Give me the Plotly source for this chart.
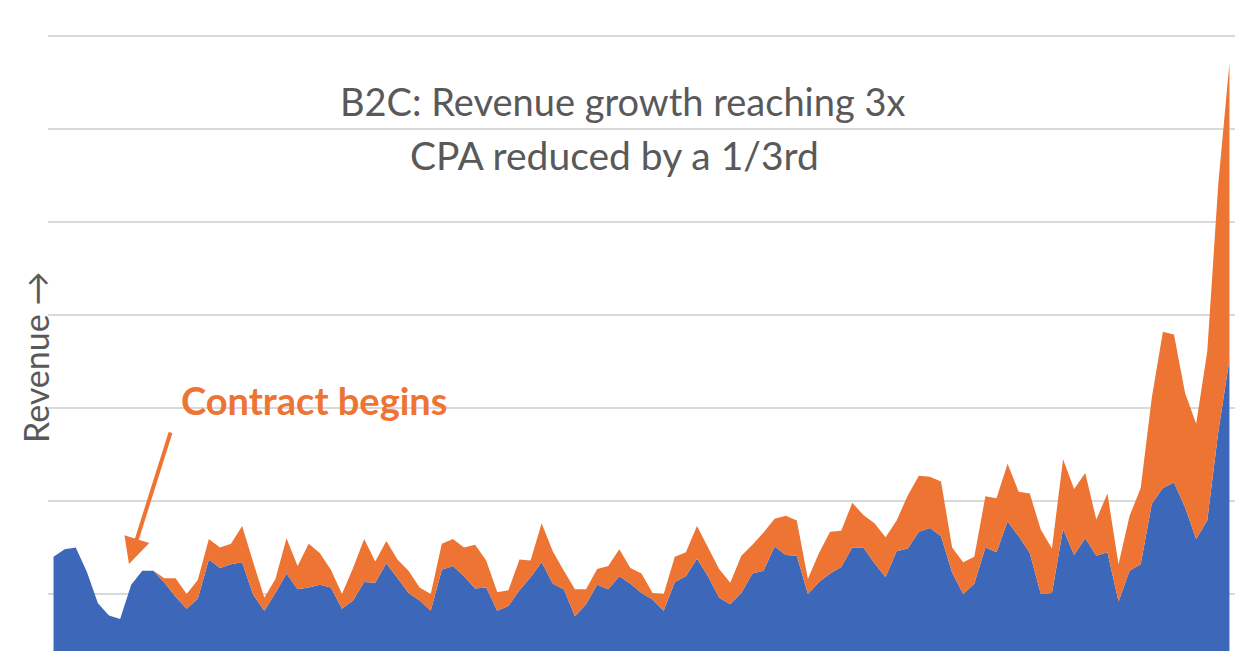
import plotly.graph_objects as go

# Period index (107 consecutive periods)
periods = list(range(107))

# Base revenue (blue) and incremental revenue after the contract (orange), gridline step = 10
base_revenue = [
    14.0, 14.8, 15.0, 12.4, 9.0, 7.7, 7.3, 11.0, 12.5, 12.5,
    11.2, 9.7, 8.4, 9.5, 13.7, 12.8, 13.2, 13.4, 9.9, 8.2,
    10.1, 12.2, 10.5, 10.7, 11.0, 10.7, 8.4, 9.3, 11.3, 11.2,
    13.3, 11.7, 10.1, 9.3, 8.2, 12.6, 13.0, 11.9, 10.6, 10.7,
    8.2, 8.7, 10.4, 11.8, 13.4, 11.1, 10.5, 7.6, 8.9, 11.0,
    10.5, 11.9, 11.1, 10.1, 9.4, 8.2, 11.3, 11.9, 13.8, 11.9,
    9.6, 8.9, 10.1, 12.2, 12.5, 15.1, 14.2, 14.1, 10.0, 11.3,
    12.2, 12.9, 15.0, 15.0, 13.3, 11.8, 14.6, 14.9, 16.7, 17.1,
    16.2, 12.3, 10.0, 11.1, 15.0, 14.5, 17.8, 16.2, 14.4, 10.0,
    10.1, 17.0, 14.2, 16.0, 14.1, 14.5, 9.2, 12.5, 13.2, 19.7,
    21.4, 22.0, 19.3, 15.9, 17.9, 27.5, 35.2,
]
uplift_revenue = [
    0, 0, 0, 0, 0, 0, 0, 0, 0, 0,
    0.5, 2.0, 1.6, 2.0, 2.2, 2.2, 2.2, 3.9, 3.5, 1.4,
    1.5, 3.8, 2.5, 4.7, 3.4, 1.9, 1.6, 3.5, 4.6, 2.3,
    2.4, 2.0, 2.4, 1.4, 1.8, 2.8, 2.9, 3.1, 4.7, 2.9,
    2.0, 1.7, 3.3, 1.8, 4.2, 3.5, 2.0, 2.9, 1.6, 1.7,
    2.5, 2.9, 1.7, 2.1, 0.7, 1.8, 2.7, 2.6, 3.5, 3.1,
    3.1, 2.3, 4.0, 3.1, 4.1, 3.0, 4.2, 3.8, 1.6, 3.1,
    4.5, 3.9, 4.8, 3.5, 4.3, 4.3, 3.3, 5.7, 6.0, 5.5,
    5.9, 2.7, 3.4, 2.9, 5.5, 5.8, 6.2, 4.8, 6.4, 6.9,
    4.8, 7.5, 7.1, 7.0, 3.9, 6.3, 4.0, 5.9, 8.2, 11.4,
    16.8, 15.9, 12.3, 12.4, 18.2, 26.7, 31.9,
]

title_lines = ["B2C: Revenue growth reaching 3x", "CPA reduced by a 1/3rd"]
y_title = "Revenue \u2192"
callout = "Contract begins"

BLUE = "#3D67B9"
ORANGE = "#ED7433"
GREY_TEXT = "#595959"

# layout geometry (pixels)
W, H = 1254, 666
ML, MR, MT, MB = 48, 19, 30, 15
PW, PH = W - ML - MR, H - MT - MB


def px_x(px):
    return (px - ML) / PW


def px_y(py):
    return (H - MB - py) / PH


fig = go.Figure()
fig.add_trace(go.Scatter(
    x=periods, y=base_revenue, stackgroup="one", mode="lines",
    line=dict(width=0, color=BLUE), fillcolor=BLUE, name="Base",
))
fig.add_trace(go.Scatter(
    x=periods, y=uplift_revenue, stackgroup="one", mode="lines",
    line=dict(width=0, color=ORANGE), fillcolor=ORANGE, name="Uplift",
))

font_family = "Lato, 'Open Sans', sans-serif"

annotations = [
    dict(text=title_lines[0], xref="paper", yref="paper", x=px_x(622), y=px_y(101),
         xanchor="center", yanchor="middle", showarrow=False,
         font=dict(family=font_family, size=38, color=GREY_TEXT)),
    dict(text=title_lines[1], xref="paper", yref="paper", x=px_x(614), y=px_y(155),
         xanchor="center", yanchor="middle", showarrow=False,
         font=dict(family=font_family, size=39, color=GREY_TEXT)),
    dict(text="<b>" + callout + "</b>", xref="paper", yref="paper", x=px_x(314), y=px_y(400),
         xanchor="center", yanchor="middle", showarrow=False,
         font=dict(family=font_family, size=38, color=ORANGE)),
    dict(text=y_title, xref="paper", yref="paper", x=px_x(35), y=px_y(358),
         xanchor="center", yanchor="middle", showarrow=False, textangle=-90,
         font=dict(family=font_family, size=34, color=GREY_TEXT)),
    dict(text="", xref="paper", yref="paper", x=px_x(129), y=px_y(564),
         ax=42, ay=-133, showarrow=True, arrowhead=2, arrowsize=1.3,
         arrowwidth=4, arrowcolor=ORANGE, standoff=0),
]

fig.update_layout(
    width=W, height=H,
    margin=dict(l=ML, r=MR, t=MT, b=MB),
    paper_bgcolor="white", plot_bgcolor="white",
    showlegend=False,
    annotations=annotations,
    xaxis=dict(range=[-0.5, 106.5], showgrid=False, zeroline=False,
               showline=False, showticklabels=False, ticks=""),
    yaxis=dict(range=[3.87, 70.64], tick0=0, dtick=10, showgrid=True,
               gridcolor="#d9d9d9", gridwidth=2, zeroline=False,
               showline=False, showticklabels=False, ticks=""),
)

fig.write_html("out.html")
